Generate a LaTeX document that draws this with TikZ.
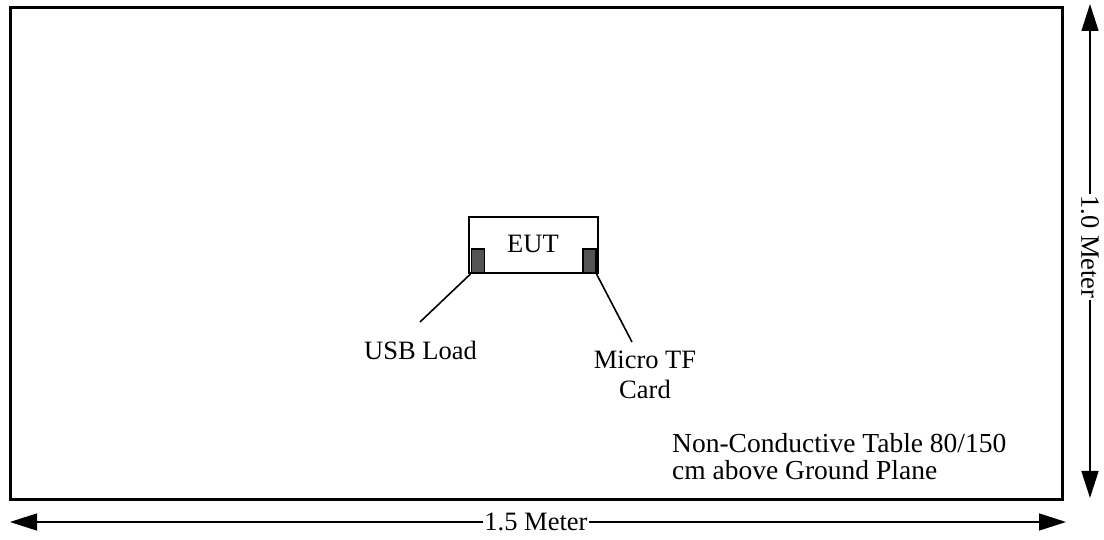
\documentclass[tikz,border=0pt]{standalone}
\usepackage{fontspec}
\setmainfont{Liberation Serif}
\usetikzlibrary{arrows.meta}
\begin{document}
\begin{tikzpicture}[x=1pt,y=1pt,
  lbl/.style={font=\fontsize{26.5}{30}\selectfont, inner sep=0pt},
  dimline/.style={line width=1.5pt, {Triangle[length=27pt,width=17pt]}-{Triangle[length=27pt,width=17pt]}},
  port/.style={draw=black, line width=1.5pt, fill=black!67},
  lead/.style={line width=1.6pt}
]
\useasboundingbox (0,0) rectangle (1104,540);
% table
\draw[line width=3pt] (10,40) rectangle (1062,532);
% EUT
\node[draw, line width=2pt, minimum width=129pt, minimum height=56pt, inner sep=0pt, anchor=south west] (eut) at (468,266) {};
\node[lbl] (eutlbl) at (533,296) {EUT};
\node[port, minimum width=13pt, minimum height=24pt, inner sep=0pt, anchor=south west] (pl) at (470.5,266) {};
\node[port, minimum width=13pt, minimum height=24pt, inner sep=0pt, anchor=south east] (pr) at (596.5,266) {};
% leads
\coordinate (usbend) at (420,218);
\coordinate (tfend) at (632,198);
\draw[lead] (pl.south west) -- (usbend);
\draw[lead] (pr.south east) -- (tfend);
\node[lbl, anchor=base west] (usb) at (364,180) {USB Load};
\node[lbl, align=center, anchor=north, font=\fontsize{26.5}{30}\selectfont] (tf) at (645,189) {Micro TF\\Card};
\node[lbl, align=left, anchor=base west, font=\fontsize{27.5}{27}\selectfont] (tbl) at (672,60) {Non-Conductive Table 80/150\\cm above Ground Plane};
% dimensions
\coordinate (hl) at (10,18);
\coordinate (hr) at (1066,18);
\draw[dimline] (hl) -- (hr);
\node[lbl, fill=white, inner xsep=1pt] (hlbl) at (536,18) {1.5 Meter};
\coordinate (vt) at (1090,536);
\coordinate (vb) at (1090,42);
\draw[dimline] (vt) -- (vb);
\node[lbl, fill=white, inner xsep=1pt, rotate=-90] (vlbl) at (1090,293) {1.0 Meter};
\end{tikzpicture}
\end{document}
